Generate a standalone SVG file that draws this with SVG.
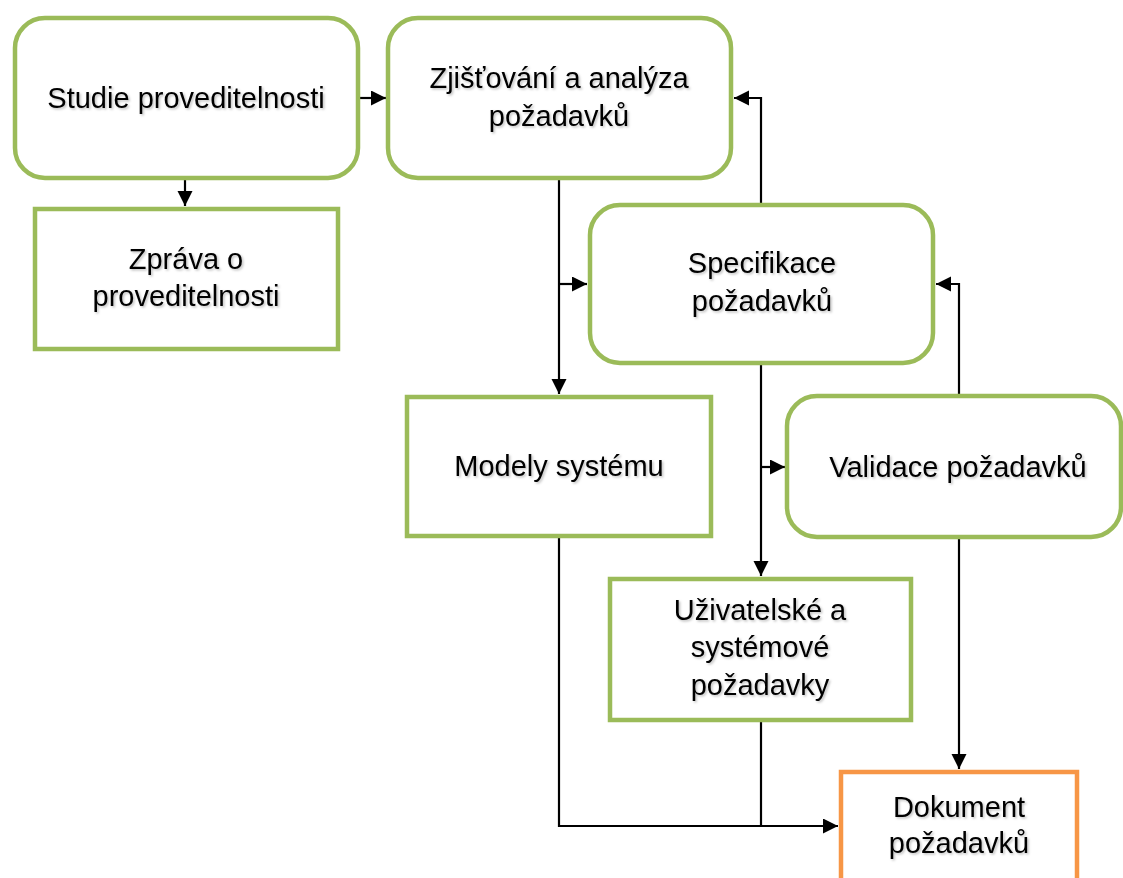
<svg xmlns="http://www.w3.org/2000/svg" width="1123" height="878" viewBox="0 0 1123 878">
<style>
.g{fill:#fff;stroke:#9BBB59;stroke-width:4.5}
.o{fill:#fff;stroke:#F79646;stroke-width:4.5}
.t{font-family:"Liberation Sans",Arial,sans-serif;font-size:29px;fill:#000;text-anchor:middle;filter:url(#sh)}
.c{fill:none;stroke:#000;stroke-width:2.2}
</style>
<defs>
<filter id="sh" x="-10%" y="-30%" width="120%" height="160%">
<feDropShadow dx="1.5" dy="1.5" stdDeviation="1" flood-color="#000" flood-opacity="0.25"/>
</filter>
<marker id="ah" markerUnits="userSpaceOnUse" markerWidth="17" markerHeight="16" refX="15" refY="7.5" orient="auto">
<path d="M0,0 L15,7.5 L0,15 Z" fill="#000"/>
</marker>
</defs>
<rect width="1123" height="878" fill="#fff"/>
<g id="connectors">
<path class="c" d="M358,98 L386,98" marker-end="url(#ah)"/>
<path class="c" d="M185,180 L185,206" marker-end="url(#ah)"/>
<path class="c" d="M559,180 L559,394" marker-end="url(#ah)"/>
<path class="c" d="M559,284 L587,284" marker-end="url(#ah)"/>
<path class="c" d="M761,203 L761,98 L734,98" marker-end="url(#ah)"/>
<path class="c" d="M959,394 L959,284 L936,284" marker-end="url(#ah)"/>
<path class="c" d="M761,365 L761,576" marker-end="url(#ah)"/>
<path class="c" d="M761,467 L785,467" marker-end="url(#ah)"/>
<path class="c" d="M959,539 L959,769" marker-end="url(#ah)"/>
<path class="c" d="M559,538 L559,826 L838,826" marker-end="url(#ah)"/>
<path class="c" d="M761,722 L761,826"/>
</g>
<g id="studie">
<rect class="g" x="15" y="18" width="343" height="160" rx="30"/>
<text class="t" x="186" y="108">Studie proveditelnosti</text>
</g>
<g id="zprava">
<rect class="g" x="35" y="209" width="303" height="140"/>
<text class="t" x="186" y="269">Zpráva o</text>
<text class="t" x="186" y="306">proveditelnosti</text>
</g>
<g id="zjistovani">
<rect class="g" x="388" y="18" width="343" height="160" rx="30"/>
<text class="t" x="559" y="88">Zjišťování a analýza</text>
<text class="t" x="559" y="126">požadavků</text>
</g>
<g id="specifikace">
<rect class="g" x="590" y="205" width="343" height="158" rx="30"/>
<text class="t" x="762" y="273">Specifikace</text>
<text class="t" x="762" y="311">požadavků</text>
</g>
<g id="modely">
<rect class="g" x="407" y="397" width="304" height="139"/>
<text class="t" x="559" y="476">Modely systému</text>
</g>
<g id="validace">
<rect class="g" x="787" y="396" width="334" height="141" rx="30"/>
<text class="t" x="958" y="477">Validace požadavků</text>
</g>
<g id="uzivatelske">
<rect class="g" x="610" y="579" width="301" height="141"/>
<text class="t" x="760" y="620">Uživatelské a</text>
<text class="t" x="760" y="657">systémové</text>
<text class="t" x="760" y="695">požadavky</text>
</g>
<g id="dokument">
<rect class="o" x="841" y="772" width="236" height="130"/>
<text class="t" x="959" y="817">Dokument</text>
<text class="t" x="959" y="853">požadavků</text>
</g>
</svg>
